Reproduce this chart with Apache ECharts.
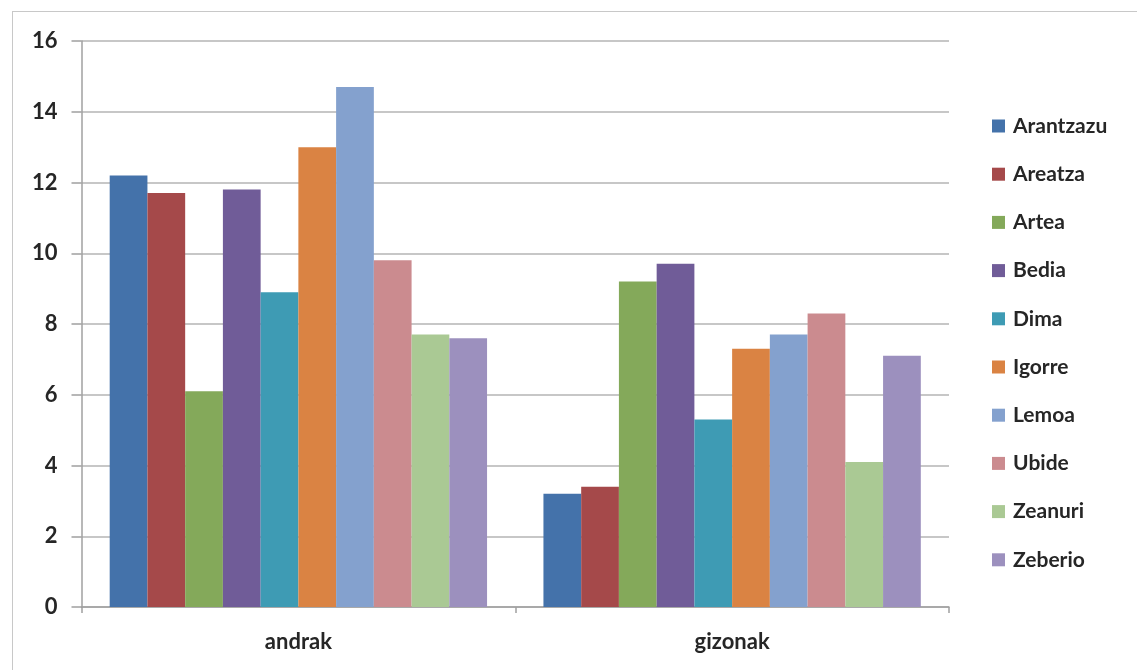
<!DOCTYPE html>
<html>
<head>
<meta charset="utf-8">
<script src="https://cdn.jsdelivr.net/npm/echarts@6/dist/echarts.min.js"></script>
<style>
html,body{margin:0;padding:0;background:#fff;}
#frame{position:absolute;left:12px;top:11px;width:1200px;height:800px;border:1.5px solid #c8c8c8;box-sizing:border-box;}
#chart{position:absolute;left:0;top:0;width:1137px;height:670px;}
</style>
</head>
<body>
<div id="frame"></div>
<div id="chart"></div>
<script>
const categories = ['andrak', 'gizonak'];
const seriesNames = ['Arantzazu', 'Areatza', 'Artea', 'Bedia', 'Dima', 'Igorre', 'Lemoa', 'Ubide', 'Zeanuri', 'Zeberio'];
const andrak  = [12.2, 11.7, 6.1, 11.8, 8.9, 13.0, 14.7, 9.8, 7.7, 7.6];
const gizonak = [3.2, 3.4, 9.2, 9.7, 5.3, 7.3, 7.7, 8.3, 4.1, 7.1];
const yTicks = [0, 2, 4, 6, 8, 10, 12, 14, 16];
const colors = ['#4472AA', '#A5494A', '#84A95A', '#705C98', '#3E9BB4', '#DA8343', '#84A1CE', '#CB8B8F', '#AAC994', '#9C90BE'];

const font = 'Lato, "Open Sans", sans-serif';
const chart = echarts.init(document.getElementById('chart'), null, {renderer: 'canvas'});
const series = seriesNames.map((n, i) => ({
  name: n,
  type: 'bar',
  data: [andrak[i], gizonak[i]],
  itemStyle: {color: colors[i]},
  barGap: '0%',
  barCategoryGap: '13%'
}));
chart.setOption({
  animation: false,
  grid: {left: 81.5, right: 188, top: 41, bottom: 63, containLabel: false},
  legend: {
    orient: 'vertical',
    left: 992,
    top: 115,
    padding: 0,
    itemWidth: 13,
    itemHeight: 13,
    itemGap: 26.2,
    icon: 'rect',
    data: seriesNames,
    textStyle: {fontFamily: font, fontSize: 21, fontWeight: 'bold', color: '#262626', lineHeight: 22, padding: [0, 0, 0, 3]}
  },
  xAxis: {
    type: 'category',
    data: categories,
    axisLine: {lineStyle: {color: '#a0a0a0', width: 1.5}},
    axisTick: {show: true, alignWithLabel: false, length: 6, lineStyle: {color: '#a0a0a0', width: 1.5}},
    axisLabel: {fontFamily: font, fontSize: 22, fontWeight: 'bold', color: '#262626', margin: 24}
  },
  yAxis: {
    type: 'value',
    min: yTicks[0],
    max: yTicks[yTicks.length - 1],
    interval: 2,
    axisLine: {show: true, lineStyle: {color: '#a0a0a0', width: 1.5}},
    axisTick: {show: true, inside: false, length: 10, lineStyle: {color: '#a0a0a0', width: 1.5}},
    splitLine: {lineStyle: {color: '#b4b4b4', width: 1.5}},
    axisLabel: {fontFamily: font, fontSize: 22, fontWeight: 'bold', color: '#262626', margin: 24}
  },
  series: series
});
</script>
</body>
</html>
